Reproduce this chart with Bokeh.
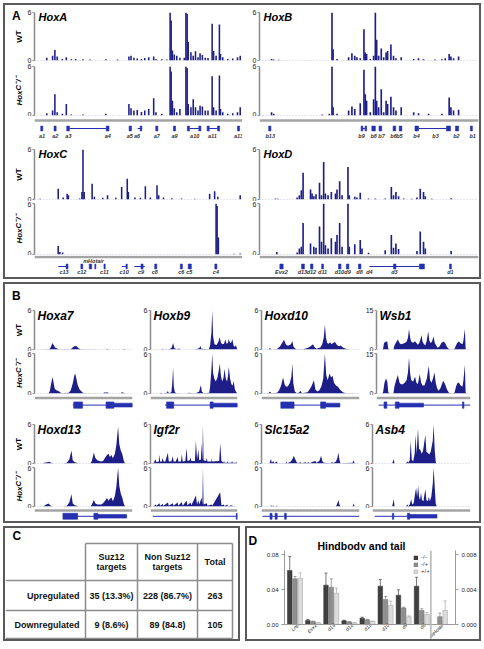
from bokeh.plotting import figure
from bokeh.layouts import column, row
from bokeh.models import (Range1d, FixedTicker, Label, ColumnDataSource, Span,
                          Whisker, TeeHead, LinearAxis, Legend, LegendItem, NumeralTickFormatter)
from bokeh.core.properties import value
from bokeh.embed import file_html
from bokeh.resources import INLINE

FONT = "Liberation Sans"
NAVY = "#1e1e88"
GENE_C = "#2430b0"
GRAY_LINE = "#a4a4a4"
BORDER = "2px solid #5a5a5a"
KO_LABEL = "HoxC\u207b/\u207b"

# ---------------- Panel A: ChIP signal peaks (position in % of locus, signal 0-6) -------------
HOXA_WT = [(5.9,0.33),(8.7,0.6),(9.8,1.3),(10.9,0.5),(13.4,0.2),(15.3,0.4),(17.7,0.17),(19.8,0.2),
           (23.3,0.17),(26.7,0.12),(34.3,0.17),(39.9,0.12),(45.4,0.5),(46.4,0.58),(47.8,0.33),
           (49.4,0.25),(51.4,0.2),(53.0,0.3),(54.9,0.4),(57.3,0.5),(58.4,0.2),(61.2,0.17),
           (63.6,0.12),(65.2,6.0),(65.7,5.0),(66.3,1.24),(67.2,0.74),(68.4,0.6),(69.9,0.33),
           (72.0,0.33),(72.8,6.0),(73.4,5.8),(73.9,2.3),(75.2,1.03),(76.3,0.6),(77.4,1.16),
           (78.6,0.4),(79.6,0.9),(80.7,0.7),(82.1,0.33),(83.4,0.3),(85.4,4.6),(86.1,1.2),
           (87.3,0.6),(88.9,4.5),(89.4,0.8),(90.5,0.4),(92.9,0.2),(95.3,0.25),(97.6,0.4),(98.9,0.6)]
HOXA_KO = [(5.9,0.28),(8.7,0.6),(9.8,2.6),(10.9,0.4),(13.4,0.2),(15.3,1.4),(17.7,0.12),(23.3,0.12),
           (34.3,0.2),(45.4,1.4),(46.4,0.9),(47.8,0.6),(49.4,0.68),(51.4,0.44),(53.0,0.6),
           (54.9,0.8),(57.3,2.1),(58.4,0.4),(61.2,0.2),(65.2,6.0),(65.7,5.4),(66.3,1.8),(67.2,0.9),
           (68.4,0.4),(69.9,0.8),(72.8,6.0),(73.4,5.8),(73.9,1.4),(75.2,1.0),(76.3,2.0),(77.4,1.0),
           (78.6,0.6),(79.6,1.2),(80.7,1.1),(82.1,0.6),(83.4,0.6),(85.4,4.8),(86.1,1.0),(87.3,0.6),
           (88.9,4.9),(89.4,0.8),(90.5,0.4),(92.9,0.2),(95.3,0.28),(97.6,0.4),(98.9,1.0)]
HOXB_WT = [(5.5,0.2),(6.5,0.12),(8.8,0.08),(33.1,6.0),(33.6,1.4),(35.4,0.2),(40.7,0.4),(42.2,0.9),
           (43.5,0.6),(44.5,0.4),(46.0,0.28),(47.7,3.9),(48.3,1.0),(48.9,0.8),(50.6,0.2),(52.1,0.6),
           (52.9,6.0),(53.5,2.6),(54.4,0.6),(55.6,1.5),(56.7,0.4),(57.8,1.0),(58.5,1.2),(60.0,2.0),
           (61.2,0.6),(62.3,0.28),(64.7,0.4),(70.4,0.2),(72.6,0.28),(74.9,0.16),(80.2,0.12),
           (83.3,0.16),(84.8,0.28),(86.6,0.8),(87.4,0.5),(88.6,0.28),(90.9,0.5)]
HOXB_KO = [(5.5,0.4),(6.5,0.2),(28.6,0.12),(31.9,0.2),(33.1,6.0),(33.6,1.0),(35.4,0.2),(40.7,0.6),
           (42.2,1.1),(43.5,0.8),(46.0,1.5),(47.7,5.6),(48.3,2.6),(48.9,1.8),(50.6,0.4),(52.1,2.0),
           (52.9,6.0),(53.5,1.8),(54.4,1.0),(55.6,3.2),(56.7,0.4),(57.8,1.8),(58.5,1.4),(60.0,2.3),
           (61.2,1.0),(62.3,0.6),(64.7,1.0),(70.4,0.4),(72.6,0.28),(77.2,0.2),(83.3,0.2),(86.6,2.2),
           (87.4,1.0),(88.6,0.6),(90.9,0.7)]
HOXC_WT = [(2.7,0.08),(11.4,1.3),(13.8,0.24),(15.7,0.7),(16.3,0.5),(21.7,0.12),(22.8,0.9),(23.3,6.0),
           (23.9,0.9),(27.7,1.9),(28.8,0.32),(32.8,0.2),(35.1,0.5),(39.1,0.2),(41.9,1.5),(44.6,2.5),
           (45.1,0.9),(48.3,0.24),(50.9,0.2),(53.3,1.6),(55.7,0.24),(58.9,1.7),(59.7,0.5),(62.0,0.24),
           (66.0,0.16),(70.7,0.12),(77.1,0.08),(84.2,0.7),(86.6,1.0),(88.1,0.32),(98.9,0.5)]
HOXC_KO = [(11.4,1.0),(12.2,0.3),(13.5,0.23),(87.3,6.0),(87.8,5.7),(88.4,2.0),(95.9,0.08),(98.9,0.12)]
HOXD_WT = [(7.3,0.12),(8.5,0.08),(17.2,0.24),(18.2,0.5),(19.1,1.1),(19.9,3.2),(23.3,1.2),(24.0,0.72),
           (24.8,0.4),(25.8,0.64),(27.4,2.0),(28.3,0.5),(29.3,4.5),(30.1,0.72),(31.3,0.5),(32.8,0.9),
           (34.7,0.72),(35.4,1.2),(36.6,2.2),(37.7,0.5),(40.4,3.9),(41.0,0.5),(43.5,0.32),(44.5,0.24),
           (46.0,0.8),(49.8,0.12),(52.9,0.12),(57.4,0.12),(60.2,1.5),(61.2,0.5),(62.3,0.9),(63.5,0.4),
           (65.8,0.12),(69.6,0.08),(71.9,0.24),(73.4,1.3),(74.9,0.9),(75.7,0.4),(78.7,0.08),(87.5,0.16)]
HOXD_KO = [(7.9,0.3),(17.2,0.24),(18.2,0.7),(19.1,0.9),(19.9,3.7),(23.3,1.3),(24.8,0.9),(25.8,0.8),
           (27.4,3.3),(28.3,1.5),(29.3,6.0),(30.1,1.1),(31.3,0.7),(32.8,1.9),(34.7,1.5),(35.4,2.3),
           (36.6,3.7),(37.7,0.9),(40.4,6.0),(41.0,0.9),(43.5,1.2),(46.0,1.7),(46.8,0.7),(49.8,0.2),
           (57.4,0.5),(60.2,2.3),(61.2,0.8),(62.3,1.3),(63.5,0.64),(71.9,0.4),(73.4,2.7),(74.9,1.5),
           (75.7,0.7),(87.5,0.4)]

# ---------------- Panel A: gene annotations (position in % of locus) ----------------
HOXA_GENES = ["a1","a2","a3","a4","a5","a6","a7","a9","a10","a11","a13"]
HOXA_GENE_X = [3.6,10.0,16.3,35.2,45.8,49.3,58.8,67.3,77.0,85.5,98.1]
HOXA_EXONS = [(3.0,4.0),(9.4,10.4),(15.5,16.8),(34.5,35.8),(45.5,46.6),(50.8,51.6),(58.3,59.3),
              (66.8,67.8),(73.5,74.5),(79.0,80.0),(83.0,84.0),(88.0,89.0),(97.6,98.6)]
HOXA_INTRONS = [(16.8,34.5),(49.6,51.6),(74.5,79.0),(84.0,88.0)]
HOXB_GENES = ["b13","b9","b8","b7","b6","b5","b4","b3","b2","b1"]
HOXB_GENE_X = [4.9,46.6,52.1,55.7,61.2,63.9,71.7,80.4,89.9,97.3]
HOXB_EXONS = [(4.2,5.2),(46.4,47.2),(48.2,48.9),(51.3,52.9),(54.6,55.8),(61.0,62.2),(63.8,65.0),
              (71.0,72.6),(85.4,87.2),(89.5,90.9),(96.3,97.2)]
HOXB_INTRONS = [(47.2,48.2),(72.6,85.4)]
HOXC_GENES = ["c13","c12","c11","c10","c9","c8","c6","c5","c4"]
HOXC_GENE_X = [14.2,22.7,33.6,43.1,51.2,57.8,70.6,74.4,87.2]
HOXC_EXONS = [(15.2,16.1),(22.3,23.2),(26.3,27.5),(29.0,29.5),(33.4,34.0),(44.0,44.6),(51.2,52.2),
              (57.8,58.8),(70.1,71.1),(73.9,75.4),(86.7,87.7)]
HOXC_INTRONS = [(11.4,15.2),(42.0,44.0),(48.0,53.0)]
HOTAIR_NAME = "mHotair"
HOTAIR_POS = 28.4
HOXD_GENES = ["Evx2","d13","d12","d11","d10","d9","d8","d4","d3","d1"]
HOXD_GENE_X = [10.0,19.6,23.7,28.8,36.5,40.2,45.7,50.2,61.6,87.2]
HOXD_EXONS = [(9.3,10.8),(19.2,20.5),(23.3,24.4),(28.4,29.2),(36.1,37.2),(39.7,40.8),(45.2,46.3),
              (61.2,62.3),(73.0,75.3),(86.8,87.6)]
HOXD_INTRONS = [(50.2,73.0)]

# ---------------- Panel B: zoomed ChIP profiles (position %, signal) ----------------
B_GENES = ["Hoxa7","Hoxb9","Hoxd10","Wsb1","Hoxd13","Igf2r","Slc15a2","Asb4"]
B_YMAX = [6, 6, 6, 15, 6, 6, 6, 6]
HOXA7_WT = [(0,0),(15,0.05),(16.5,0.3),(17.5,0.7),(18.3,1.0),(19.5,0.7),(21,0.3),(23,0.15),(25,0.05),
            (37,0.05),(39,0.3),(41,0.55),(43,0.5),(45,0.2),(47,0.05),(72,0),(74,0.1),(76,0),(90,0),
            (91.5,0.1),(93,0),(100,0)]
HOXA7_KO = [(0,0),(14,0),(15.5,0.3),(17,1.5),(18,2.2),(18.6,2.4),(19.5,1.6),(20.5,0.8),(22,0.5),
            (24,0.4),(26,0.2),(28,0.05),(35,0.1),(37,0.5),(39,1.5),(40.5,2.6),(41.4,3.05),(42.5,2.4),
            (44,1.3),(46,0.6),(48,0.3),(50,0.05),(70,0),(71,0.15),(75,0.15),(76,0),(88,0),(89,0.2),
            (91,0.1),(92,0),(100,0)]
HOXB9_WT = [(0,0),(12,0),(14,0.1),(16,0),(18,0.05),(22,0.05),(24.5,0.3),(26,1.0),(27.5,0.2),(30,0.05),
            (33,0.15),(34.5,0),(50,0),(52,0.05),(56,0.2),(57.4,0.55),(58.5,0.1),(67,0.05),(68.5,0.6),
            (70,2.5),(71,6.0),(72,2.0),(73.5,0.8),(76,0.7),(78,1.2),(79.6,1.9),(81,1.0),(83,0.8),
            (84.5,0.9),(86,1.5),(87.5,0.9),(89,1.0),(90,1.6),(91.5,1.0),(93,1.1),(94,1.6),(95.5,0.6),
            (97,0.4),(98,0.7),(99.5,0.1),(100,0)]
HOXB9_KO = [(0,0),(10,0),(12,0.1),(14,0),(19,0.1),(20,0.4),(21,0.05),(24,0.2),(25,1.5),(26,3.9),
            (26.8,1.0),(28,0.2),(30,0.05),(42,0),(44,0.1),(48,0.05),(52,0.05),(54,0.15),(56,0.3),
            (57,0.9),(58,1.2),(59,0.3),(61,0.05),(67.5,0.1),(68.5,1.0),(70,3.5),(71,6.0),(72,3.0),
            (73.5,2.2),(75,1.8),(77,2.4),(78.5,3.5),(79.6,4.5),(81,2.6),(82.5,1.8),(84,2.4),(85,3.7),
            (86.5,2.2),(88,1.8),(89,2.6),(90,4.0),(91.5,2.2),(93,1.4),(94.5,1.2),(95.5,1.9),(97,0.6),
            (98.5,0.2),(100,0.05)]
HOXD10_WT = [(0,0),(7,0),(8.5,0.25),(10,0),(15,0.05),(17,0.2),(19,0.5),(21,1.0),(23,1.5),(24.5,0.9),
             (26,0.6),(28,0.6),(30,0.8),(31.5,1.3),(32.5,0.5),(34,0.2),(36,0.05),(42,0.05),(46,0.2),
             (49,0.4),(51,0.6),(52.5,0.8),(54,0.4),(56,0.1),(60,0.3),(62,0.8),(63.5,1.8),(64.7,3.8),
             (65.8,1.8),(67,1.0),(68.5,0.9),(70,1.1),(71.5,0.8),(73,1.0),(75,1.15),(77,0.7),(79,0.5),
             (81,0.6),(83,0.3),(86,0.1),(90,0),(100,0)]
HOXD10_KO = [(0,0),(7,0.05),(8.5,0.3),(10,0.05),(16,0.1),(18,0.5),(20,1.2),(22,2.4),(23.5,1.4),
             (25,1.0),(27,1.1),(29,1.6),(30.5,2.5),(31.5,4.5),(32.5,1.5),(34,0.3),(36,0.05),(38,0.1),
             (40,0.4),(41,0.05),(47,0.2),(49,0.6),(51,1.1),(53.5,2.0),(55,0.6),(57,0.3),(59,0.5),
             (61,1.0),(63,2.2),(64.7,6.0),(66,2.8),(67.5,2.0),(69.5,3.0),(71,2.4),(72.5,2.65),
             (74,1.6),(76,1.2),(78,1.0),(80,0.6),(83,0.2),(86,0.05),(100,0)]
WSB1_WT = [(0,0),(6,0),(7,0.3),(8,2.5),(10,3.1),(11.5,3.0),(12.5,0.3),(14,0),(18,0),(19,1.5),
           (20.5,2.5),(22.7,3.8),(24.5,2.5),(26,2.0),(28,2.2),(30,2.5),(32,3.0),(33.5,4.5),(34.6,7.9),
           (35.8,4.5),(37,3.0),(39,2.6),(41,3.2),(42.5,2.5),(44,1.8),(45.5,2.5),(47,4.2),(48,5.6),
           (49,3.0),(50.5,2.0),(52,1.6),(53.5,3.5),(55,7.0),(56.2,3.5),(57.5,2.5),(59,3.0),(60.7,5.0),
           (62,2.5),(63.5,1.5),(65,0.7),(67,1.2),(69,2.5),(71,3.1),(73,2.5),(75,1.0),(77,0.2),(80,0),
           (83,0.2),(84.5,1.5),(86,2.6),(87.5,3.1),(89.5,2.4),(91.5,2.0),(92.5,3.5),(94,7.9),
           (94.8,0.5),(95.5,0),(100,0)]
WSB1_KO = [(0,0),(6,0),(7,0.5),(8.5,4.0),(10,5.6),(11.5,4.5),(12.5,0.5),(14,0),(18,0),(19,2.5),
           (20.5,4.5),(22.7,6.9),(24.5,4.0),(26,3.5),(28,3.5),(30,4.0),(32,5.0),(33.5,8.0),(34.6,13.5),
           (35.8,7.5),(37,5.0),(39,4.5),(41,6.25),(42.5,4.0),(44,3.5),(46,7.25),(47.5,4.0),(49,3.0),
           (51,3.0),(53.5,5.5),(55.6,10.4),(57,5.0),(58.5,4.0),(60,5.5),(61.7,7.9),(63,4.0),(64.5,2.0),
           (66,1.0),(68,2.0),(69.5,3.5),(71,4.75),(73,3.5),(75,1.5),(77,0.3),(80,0),(83,0.3),
           (84.5,2.5),(86,3.8),(87.5,4.1),(89.5,3.0),(91.5,2.5),(92.5,5.0),(94,10.75),(94.8,0.5),
           (95.5,0),(100,0)]
HOXD13_WT = [(0,0),(8,0),(10,0.1),(13,0.2),(15,0.26),(17,0.1),(19,0),(30,0),(33,0.1),(35.5,0.6),
             (37.7,2.0),(39,0.5),(41,0.2),(43,0.1),(45,0),(57,0),(58.5,0.4),(60.6,1.7),(62,0.9),
             (64,0.5),(66,0.4),(68,0.3),(70,0.4),(72,0.9),(74,1.3),(75.5,1.5),(77,1.0),(78.5,1.3),
             (80,0.8),(82,1.5),(83.5,2.8),(85.3,5.7),(86.5,3.0),(88,2.0),(89.5,1.5),(91,0.5),(92,0.1),
             (93,0),(100,0)]
HOXD13_KO = [(0,0),(8,0),(10,0.1),(12,0.3),(14.4,0.45),(16,0.2),(18,0),(30,0),(33,0.1),(35.5,0.6),
             (37.7,1.9),(39,0.5),(41,0.2),(43,0.1),(45,0),(57,0),(58.5,0.3),(60.6,1.0),(62,0.5),
             (64,0.3),(66,0.3),(68,0.3),(70,0.5),(72,0.9),(74,1.3),(75.5,0.9),(77,1.2),(78.5,1.4),
             (80,0.8),(82,1.6),(83.5,3.0),(85.3,6.0),(86.5,3.2),(88,2.0),(89.5,1.4),(91,0.5),(92,0.1),
             (93,0),(100,0)]
IGF2R_WT = [(0,0),(4,0.1),(5.5,0.65),(7,0.2),(9.5,0.3),(10.3,1.4),(11,0.3),(13,0.3),(14,0.9),(15,0.3),
            (17,0.3),(20,1.65),(21,0.3),(24,0.35),(25.7,1.1),(26.5,0.3),(29,0.3),(31.2,1.0),(32,0.3),
            (35,0.3),(36,1.4),(37,0.3),(40,0.4),(41.5,2.4),(42.5,0.4),(45,0.5),(46,0.9),(47,0.4),
            (51,0.4),(52.2,3.5),(53.5,0.6),(55,2.15),(56,0.5),(58,0.6),(58.8,3.15),(59.6,0.5),
            (60.3,6.0),(61,0.5),(64,0.4),(64.7,0.9),(65.5,0.3),(70,0.3),(70.2,0.8),(71,0.3),(79,0.4),
            (80.1,3.15),(81.5,0.4),(84,0.1),(84.5,0.5),(85,0.1),(88,0.1),(88.2,0.4),(89,0.1),(93,0.1),
            (93.7,0.4),(94.5,0.1),(99,0.1),(99.3,0.3),(100,0)]
IGF2R_KO = [(0,0),(4,0.05),(5.5,0.3),(7,0.1),(10.3,0.5),(11,0.1),(14,0.4),(15,0.1),(20,0.6),(21,0.1),
            (25.7,0.5),(26.5,0.1),(31.2,0.6),(32,0.1),(36,0.7),(37,0.1),(41.5,0.9),(42.5,0.2),(46,0.6),
            (47,0.2),(52.2,1.7),(53.5,0.3),(55,1.0),(56,0.3),(58.8,1.4),(59.6,0.3),(60.3,6.0),(61,0.3),
            (64.7,0.5),(65.5,0.1),(70.2,0.3),(71,0.1),(80.1,2.2),(81.5,0.2),(84.5,0.3),(85,0.05),
            (88.2,0.3),(89,0.05),(93.7,0.2),(94.5,0.05),(100,0)]
SLC15A2_WT = [(0,0),(8,0),(9.7,0.7),(10.5,0.1),(12,0.4),(13,0.05),(15.5,0.3),(16.5,0.05),(25,0.05),
              (25.5,0.3),(26.5,0.05),(30,0.3),(32,0.8),(33,1.2),(34.5,0.6),(36,0.2),(37,0.05),(40,0.2),
              (41,0.05),(45,0.2),(46,0.05),(48,0.2),(49,0.05),(53,0.3),(55,0.4),(56,0.1),(59,0.4),
              (60.8,1.2),(62,0.4),(63.5,0.1),(71,0.05),(72,0.3),(73,0.05),(76,0.3),(77.5,0.9),
              (78.5,1.7),(79.5,0.6),(80.5,0.05),(93,0.1),(94,0.5),(95,0.05),(100,0)]
SLC15A2_KO = [(0,0),(9,0),(9.7,0.25),(10.5,0.05),(12,0.15),(13,0),(15.5,0.1),(16.5,0),(76,0),
              (77.5,0.5),(78.5,1.0),(79.5,0.3),(80.5,0),(93,0),(94,0.45),(95,0),(100,0)]
ASB4_WT = [(0,0),(20,0),(21.7,0.65),(22.5,0),(34,0),(35.6,0.3),(36.5,0.1),(38,0.5),(39,3.5),(40,0.6),
           (41.5,0.3),(43,1.5),(44,4.4),(45,1.5),(46.4,5.4),(47.5,2.2),(48.8,2.15),(50,1.5),(51.5,1.9),
           (53.9,4.4),(55,1.8),(56.5,1.6),(58,1.4),(59.5,1.9),(61.5,3.5),(62.4,6.0),(63.5,2.0),
           (64.5,0.3),(65,0),(100,0)]
ASB4_KO = [(0,0),(20,0),(21.7,1.1),(22.5,0),(34,0),(35.6,0.3),(36.5,0.05),(38,0.3),(39.5,1.1),
           (40.5,0.3),(42,0.5),(43.5,2.0),(44.5,2.9),(45.5,1.5),(46.6,3.2),(47.5,1.5),(48.5,1.0),
           (49.5,2.1),(50.5,1.0),(52,0.8),(53.9,2.7),(55,1.0),(56.5,0.8),(57.5,1.5),(58.5,0.8),
           (60,1.5),(61.5,3.5),(62.4,6.0),(63.5,3.0),(64.5,0.5),(65.5,0),(100,0)]
B_WT = [HOXA7_WT, HOXB9_WT, HOXD10_WT, WSB1_WT, HOXD13_WT, IGF2R_WT, SLC15A2_WT, ASB4_WT]
B_KO = [HOXA7_KO, HOXB9_KO, HOXD10_KO, WSB1_KO, HOXD13_KO, IGF2R_KO, SLC15A2_KO, ASB4_KO]
# gene models: transcribed span, tall exons, thinner (UTR) exons
B_SPAN = [(39,100),(16.7,100),(19.7,80),(2.4,100),(29,94),(2.6,100),(1,100),(2.4,65.8)]
B_TALL = [[(40,49),(73,81)], [(18.5,26.7),(68.5,72)], [(19.7,33.2),(60.3,65.4)],
          [(8,11),(20,24),(91.5,93)], [(29,44),(60.6,64.7)], [(98.5,100)],
          [(8.7,10.8),(13.9,16),(23.6,25.3)], [(20.3,21.7),(35.6,38)]]
B_MED = [[(81,100)], [(72,100)], [(65.4,80)], [(24,50)], [(64.7,94)], [], [], [(38,65.8)]]

# ---------------- Panel C: table ----------------
C_HEAD_1 = ["Suz12", "Non Suz12", "Total"]
C_HEAD_2 = ["targets", "targets", ""]
C_ROWS = ["Upregulated", "Downregulated"]
C_CELLS = [["35 (13.3%)", "228 (86.7%)", "263"], ["9 (8.6%)", "89 (84.8)", "105"]]

# ---------------- Panel D: qPCR, hindbody and tail ----------------
D_TITLE = "Hindbody and tail"
D_GENES = ["Lnp", "Evx2", "d13", "d12", "d11", "d10", "d9", "d8"]
D_KO = [0.0617, 0.0046, 0.0450, 0.0042, 0.0072, 0.0438, 0.0335, 0.0438]
D_KO_SD = [0.0160, 0.0012, 0.0137, 0.0006, 0.0012, 0.0076, 0.0061, 0.0102]
D_HET = [0.0522, 0.0034, 0.0427, 0.0030, 0.0053, 0.0286, 0.0190, 0.0160]
D_HET_SD = [0.0027, 0.0005, 0.0095, 0.0004, 0.0006, 0.0034, 0.0008, 0.0020]
D_WT = [0.0526, 0.0020, 0.0358, 0.0018, 0.0034, 0.0217, 0.0088, 0.0114]
D_WT_SD = [0.0064, 0.0003, 0.0057, 0.0003, 0.0005, 0.0050, 0.0011, 0.0023]
D_HOT = [0.0, 0.0009, 0.0016]       # -/-, -/+, +/+ (right axis)
D_HOT_SD = [0.0, 0.0004, 0.0011]
D_LEGEND = ["-/-", "-/+", "+/+"]


def base_fig(width, height, xr, yr, mbl=0, mbr=0, mbt=0, mbb=0, x_axis=None, y_axis=None):
    p = figure(width=width, height=height, x_range=xr, y_range=yr, toolbar_location=None,
               output_backend="svg", x_axis_location=x_axis, y_axis_location=y_axis,
               min_border_left=mbl, min_border_right=mbr, min_border_top=mbt,
               min_border_bottom=mbb, outline_line_color=None,
               background_fill_color="white", border_fill_color="white")
    p.xgrid.visible = False
    p.ygrid.visible = False
    return p


def track_fig(width, height, mbl, mbr, mbt, mbb, ymax):
    p = base_fig(width, height, Range1d(0, 100), Range1d(0, ymax), mbl, mbr, mbt, mbb, None, "left")
    ax = p.yaxis[0]
    ax.ticker = FixedTicker(ticks=[0, ymax])
    ax.bounds = (0, ymax)
    ax.axis_line_color = "#8a8a8a"
    ax.axis_line_width = 1.5
    ax.major_tick_line_color = "#8a8a8a"
    ax.major_tick_out = 2
    ax.major_tick_in = 0
    ax.minor_tick_line_color = None
    ax.major_label_standoff = 1
    ax.major_label_text_font = FONT
    ax.major_label_text_font_size = "7px"
    ax.major_label_text_color = "#1a1a1a"
    p.add_layout(Span(location=0, dimension="width", line_color="#9a9ac8",
                      line_dash="1 2", line_width=1))
    return p


def add_peaks(p, peaks):
    p.vbar(x=[a for a, b in peaks], top=[b for a, b in peaks], bottom=0, width=0.75,
           fill_color=NAVY, line_color=None)


def add_area(p, pts):
    p.varea(x=[a for a, b in pts], y1=0, y2=[b for a, b in pts], fill_color=NAVY)


def name_label(p, text, ymax, size, dx=4, dy=2):
    p.add_layout(Label(x=0, y=ymax, x_offset=dx, y_offset=dy, text=text, text_font=FONT,
                       text_font_style="bold italic", text_font_size=size,
                       text_baseline="top", text_align="left", text_color="black"))


def strip_fig(width, height, R, letter=None, letter_xy=(6.5, 3)):
    """narrow figure holding the rotated row labels (and the panel letter)"""
    p = base_fig(width, height, Range1d(0, width), Range1d(height, 0))
    wt_h, wt_t, wt_b = R["wt"]
    ko_h, ko_t, ko_b = R["ko"]
    wt_c = wt_t + (wt_h - wt_t - wt_b) / 2
    ko_c = wt_h + ko_t + (ko_h - ko_t - ko_b) / 2
    lab = dict(text_font=value(FONT), text_font_size="8px", text_align="center",
               text_baseline="middle", text_color="black", angle=1.5708)
    p.text(x=[13.5], y=[wt_c], text=["WT"], text_font_style="bold", **lab)
    p.text(x=[13.5], y=[ko_c], text=[KO_LABEL], text_font_style="bold italic", **lab)
    if letter:
        p.text(x=[letter_xy[0]], y=[letter_xy[1]], text=[letter], text_font=value(FONT),
               text_font_style="bold", text_font_size="12px", text_baseline="top",
               text_align="left", text_color="black")
    return p


def boxed(child):
    return column(child, styles={"border": BORDER, "background-color": "white"})


STRIP_W = 19

# ================= Panel A =================
A_LOCI = [("HoxA", HOXA_WT, HOXA_KO, HOXA_EXONS, HOXA_INTRONS, HOXA_GENES, HOXA_GENE_X),
          ("HoxB", HOXB_WT, HOXB_KO, HOXB_EXONS, HOXB_INTRONS, HOXB_GENES, HOXB_GENE_X),
          ("HoxC", HOXC_WT, HOXC_KO, HOXC_EXONS, HOXC_INTRONS, HOXC_GENES, HOXC_GENE_X),
          ("HoxD", HOXD_WT, HOXD_KO, HOXD_EXONS, HOXD_INTRONS, HOXD_GENES, HOXD_GENE_X)]
A_ROWS = [dict(wt=(58, 7, 3), ko=(53, 3, 1), gene=24, gy=(0.83, 0.5, 0.17, 0.1)),
          dict(wt=(61, 9, 2), ko=(54, 2, 1), gene=22, gy=(0.93, 0.5, 0.25, 0.11))]
A_COLS = [(237 - STRIP_W, 7, 0), (237, 17, 1)]

a_rows = []
for ri in range(2):
    blocks = []
    R = A_ROWS[ri]
    for ci in range(2):
        name, wt, ko, exons, introns, gnames, gx = A_LOCI[ri * 2 + ci]
        W, mbl, mbr = A_COLS[ci]
        pw = track_fig(W, R["wt"][0], mbl, mbr, R["wt"][1], R["wt"][2], 6)
        add_peaks(pw, wt)
        name_label(pw, name, 6, "11px", 4, 2)
        pk = track_fig(W, R["ko"][0], mbl, mbr, R["ko"][1], R["ko"][2], 6)
        add_peaks(pk, ko)
        gray_y, gene_y, lab_y, half = R["gy"]
        pg = base_fig(W, R["gene"], Range1d(0, 100), Range1d(0, 1), mbl, mbr)
        pg.add_layout(Span(location=gray_y, dimension="width", line_color=GRAY_LINE, line_width=2.5))
        pg.segment(x0=[a for a, b in introns], y0=gene_y, x1=[b for a, b in introns], y1=gene_y,
                   line_color=GENE_C, line_width=1)
        pg.quad(left=[a for a, b in exons], right=[b for a, b in exons], bottom=gene_y - half,
                top=gene_y + half, fill_color=GENE_C, line_color=GENE_C, line_width=0.6)
        pg.text(x=gx, y=lab_y, text=gnames, text_font=value(FONT), text_font_style="bold italic",
                text_font_size="5.5px", text_align="center", text_baseline="middle",
                text_color="#333333")
        if name == "HoxC":
            pg.text(x=[HOTAIR_POS], y=0.77, text=[HOTAIR_NAME], text_font=value(FONT),
                    text_font_style="bold italic", text_font_size="5.5px", text_align="center",
                    text_baseline="middle", text_color="#333333")
        col = column(pw, pk, pg, spacing=0)
        if ci == 0:
            H = R["wt"][0] + R["ko"][0] + R["gene"]
            strip = strip_fig(STRIP_W, H, R, "A" if ri == 0 else None)
            blocks.append(row(strip, col, spacing=0))
        else:
            blocks.append(col)
    a_rows.append(row(*blocks, spacing=0))
panelA = boxed(column(*a_rows, spacing=0))

# ================= Panel B =================
B_HEAD_H = 22
B_COLS = [(135 - STRIP_W, 9, 8), (102, 7, 5), (120, 19, 3), (117, 9, 9)]
B_ROWS = [dict(wt=(45, 4, 2), ko=(44, 2, 2), gene=16, gy=(0.85, 0.4, 0.2, 0.12)),
          dict(wt=(54, 13, 2), ko=(43, 2, 2), gene=13, gy=(0.85, 0.4, 0.23, 0.14))]
b_head = base_fig(474, B_HEAD_H, Range1d(0, 474), Range1d(B_HEAD_H, 0))
b_head.text(x=[6.5], y=[4], text=["B"], text_font=value(FONT), text_font_style="bold",
            text_font_size="12px", text_baseline="top", text_align="left", text_color="black")
b_rows = [row(b_head)]
for ri in range(2):
    blocks = []
    R = B_ROWS[ri]
    for ci in range(4):
        k = ri * 4 + ci
        W, mbl, mbr = B_COLS[ci]
        ymax = B_YMAX[k]
        pw = track_fig(W, R["wt"][0], mbl, mbr, R["wt"][1], R["wt"][2], ymax)
        add_area(pw, B_WT[k])
        name_label(pw, B_GENES[k], ymax, "12px", 3, 2)
        pk = track_fig(W, R["ko"][0], mbl, mbr, R["ko"][1], R["ko"][2], ymax)
        add_area(pk, B_KO[k])
        gray_y, gene_y, th, mh = R["gy"]
        pg = base_fig(W, R["gene"], Range1d(0, 100), Range1d(0, 1), mbl, mbr)
        pg.add_layout(Span(location=gray_y, dimension="width", line_color=GRAY_LINE, line_width=2.5))
        s0, s1 = B_SPAN[k]
        pg.segment(x0=[s0], y0=gene_y, x1=[s1], y1=gene_y, line_color=GENE_C, line_width=1)
        tall = B_TALL[k]
        pg.quad(left=[a for a, b in tall], right=[b for a, b in tall], bottom=gene_y - th,
                top=gene_y + th, fill_color=GENE_C, line_color=GENE_C, line_width=0.6)
        med = B_MED[k]
        if med:
            pg.quad(left=[a for a, b in med], right=[b for a, b in med], bottom=gene_y - mh,
                    top=gene_y + mh, fill_color=GENE_C, line_color=GENE_C, line_width=0.6)
        col = column(pw, pk, pg, spacing=0)
        if ci == 0:
            H = R["wt"][0] + R["ko"][0] + R["gene"]
            blocks.append(row(strip_fig(STRIP_W, H, R), col, spacing=0))
        else:
            blocks.append(col)
    b_rows.append(row(*blocks, spacing=0))
panelB = boxed(column(*b_rows, spacing=0))

# ================= Panel C =================
C_W, C_H = 233, 111
C_VX = [80, 132, 192, 227]          # column rule positions
C_HY = [15, 52, 82, 110]            # row rule positions
pC = base_fig(C_W, C_H, Range1d(0, C_W), Range1d(C_H, 0))
pC.segment(x0=[C_VX[0], 0, 0, 0], y0=C_HY, x1=[C_VX[3]] * 4, y1=C_HY,
           line_color="#8c8c8c", line_width=1.5)
pC.segment(x0=C_VX, y0=[C_HY[0]] * 4, x1=C_VX, y1=[C_HY[3]] * 4,
           line_color="#8c8c8c", line_width=1.5)
cx = [(C_VX[i] + C_VX[i + 1]) / 2 for i in range(3)]
hy = (C_HY[0] + C_HY[1]) / 2
txt = dict(text_font=value(FONT), text_font_style="bold", text_font_size="9px",
           text_color="#111111", text_baseline="middle")
pC.text(x=cx[:2], y=hy - 5, text=C_HEAD_1[:2], text_align="center", **txt)
pC.text(x=cx[:2], y=hy + 5, text=C_HEAD_2[:2], text_align="center", **txt)
pC.text(x=[cx[2]], y=hy, text=[C_HEAD_1[2]], text_align="center", **txt)
for i in range(len(C_ROWS)):
    ry = (C_HY[i + 1] + C_HY[i + 2]) / 2
    pC.text(x=[C_VX[0] - 6], y=ry, text=[C_ROWS[i]], text_align="right", **txt)
    pC.text(x=cx, y=ry, text=C_CELLS[i], text_align="center", **txt)
pC.text(x=[7], y=0, text=["C"], text_font=value(FONT), text_font_style="bold",
        text_font_size="12px", text_baseline="top", text_align="left", text_color="black")
panelC = boxed(pC)

# ================= Panel D =================
D_W, D_HEAD_H, D_CH = 232, 22, 89
d_head = base_fig(D_W, D_HEAD_H, Range1d(0, D_W), Range1d(D_HEAD_H, 0))
d_head.text(x=[1], y=[5], text=["D"], text_font=value(FONT), text_font_style="bold",
            text_font_size="12px", text_baseline="top", text_align="left", text_color="black")
d_head.text(x=[114], y=[17], text=[D_TITLE], text_font=value(FONT), text_font_style="bold",
            text_font_size="10.5px", text_baseline="alphabetic", text_align="center",
            text_color="black")

n = len(D_GENES)
ZERO_PX = 74                     # px from chart top to the zero line
UNIT_PER_PX = 0.08 / 70          # left-axis units per pixel
y_lo, y_hi = -(D_CH - ZERO_PX) * UNIT_PER_PX, ZERO_PX * UNIT_PER_PX
pD = base_fig(D_W, D_CH, Range1d(-0.58, 8.86), Range1d(y_lo, y_hi), 37, 21, 0, 0, None, "left")
pD.extra_y_ranges = {"hot": Range1d(y_lo / 10, y_hi / 10)}
AXC = "#9a9a9a"
ax = pD.yaxis[0]
ax.ticker = FixedTicker(ticks=[0, 0.04, 0.08])
ax.formatter = NumeralTickFormatter(format="0.00")
ax.bounds = (0, y_hi)
rax = LinearAxis(y_range_name="hot", ticker=FixedTicker(ticks=[0, 0.004, 0.008]),
                 formatter=NumeralTickFormatter(format="0.000"), bounds=(0, y_hi / 10))
pD.add_layout(rax, "right")
for a in (ax, rax):
    a.axis_line_color = AXC
    a.major_tick_line_color = AXC
    a.minor_tick_line_color = None
    a.major_tick_out = 3
    a.major_tick_in = 0
    a.major_label_standoff = 3
    a.major_label_text_font = FONT
    a.major_label_text_font_size = "6px"
    a.major_label_text_color = "#222222"
pD.add_layout(Span(location=0, dimension="width", line_color=AXC, line_width=1))
pD.add_layout(Span(location=n - 0.5, dimension="height", line_color="#b4b4b4", line_width=1.5))

OFFS = [-0.29, 0.0, 0.29]
FILLS = ["#404040", "#8f8f8f", "#dcdcdc"]
LINES = ["#2c2c2c", "#6f6f6f", "#9a9a9a"]
WCOL = ["#555555", "#8a8a8a", "#b0b0b0"]
series = [(D_KO, D_KO_SD), (D_HET, D_HET_SD), (D_WT, D_WT_SD)]
items = []
for i, (vals, sds) in enumerate(series):
    xs = [j + OFFS[i] for j in range(n)]
    r = pD.vbar(x=xs, top=vals, width=0.25, fill_color=FILLS[i], line_color=LINES[i], line_width=0.5)
    items.append(LegendItem(label=D_LEGEND[i], renderers=[r]))
    src = ColumnDataSource(dict(x=xs, lower=vals, upper=[v + s for v, s in zip(vals, sds)]))
    pD.add_layout(Whisker(base="x", lower="lower", upper="upper", source=src, lower_head=None,
                          upper_head=TeeHead(size=3, line_color=WCOL[i], line_width=0.8),
                          line_color=WCOL[i], line_width=0.8))
    hx = n + OFFS[i]
    if D_HOT[i] > 0:
        pD.vbar(x=[hx], top=[D_HOT[i]], width=0.25, fill_color=FILLS[i], line_color=LINES[i],
                line_width=0.5, y_range_name="hot")
        hsrc = ColumnDataSource(dict(x=[hx], lower=[D_HOT[i]], upper=[D_HOT[i] + D_HOT_SD[i]]))
        pD.add_layout(Whisker(base="x", lower="lower", upper="upper", source=hsrc, lower_head=None,
                              upper_head=TeeHead(size=3, line_color=WCOL[i], line_width=0.8),
                              line_color=WCOL[i], line_width=0.8, y_range_name="hot"))
leg = Legend(items=items, location=(129, 65), glyph_width=5, glyph_height=5, label_height=6,
             label_text_font=FONT, label_text_font_size="6px", label_standoff=3, spacing=1,
             padding=1, margin=0, border_line_color=None, background_fill_alpha=0)
pD.add_layout(leg)
names = D_GENES + [HOTAIR_NAME]
pD.text(x=[j + 0.15 for j in range(len(names))], y=0.0003, text=names, angle=0.785,
        text_align="right", text_baseline="middle", text_font=value(FONT),
        text_font_size="5px", text_font_style="italic", text_color="#222222")
panelD = boxed(column(row(d_head), row(pD), spacing=0))

layout = column(panelA, panelB, row(panelC, panelD, spacing=5), spacing=3, margin=(3, 0, 0, 3))

open("out.html", "w").write(file_html(layout, INLINE))
